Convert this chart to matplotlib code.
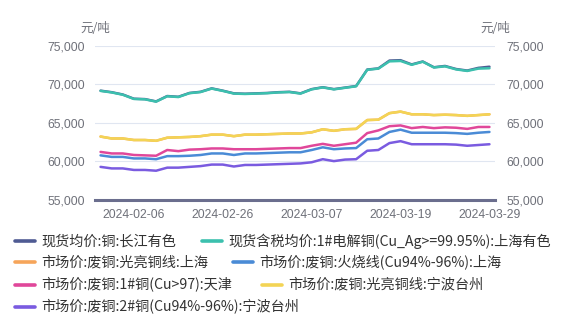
import matplotlib
matplotlib.use("Agg")
import matplotlib.pyplot as plt
from matplotlib.lines import Line2D

# ---------------- data ----------------
dates = ["2024-02-01", "2024-02-02", "2024-02-05", "2024-02-06", "2024-02-07", "2024-02-08",
         "2024-02-19", "2024-02-20", "2024-02-21", "2024-02-22", "2024-02-23", "2024-02-26",
         "2024-02-27", "2024-02-28", "2024-02-29", "2024-03-01", "2024-03-04", "2024-03-05",
         "2024-03-06", "2024-03-07", "2024-03-08", "2024-03-11", "2024-03-12", "2024-03-13",
         "2024-03-14", "2024-03-15", "2024-03-18", "2024-03-19", "2024-03-20", "2024-03-21",
         "2024-03-22", "2024-03-25", "2024-03-26", "2024-03-27", "2024-03-28", "2024-03-29"]
tick_dates = ["2024-02-06", "2024-02-26", "2024-03-07", "2024-03-19", "2024-03-29"]

changjiang = [69180, 68980, 68680, 68130, 68080, 67780, 68480, 68380, 68880, 69030, 69480, 69180,
              68830, 68780, 68830, 68880, 68980, 69030, 68830, 69380, 69630, 69380, 69580, 69780,
              71930, 72080, 73100, 73150, 72600, 72980, 72230, 72400, 72000, 71800, 72150, 72300]
shanghai_1 = [69150, 68950, 68650, 68100, 68050, 67750, 68450, 68350, 68850, 69000, 69450, 69150,
              68800, 68750, 68800, 68850, 68950, 69000, 68800, 69350, 69600, 69350, 69550, 69750,
              71900, 72050, 73000, 73050, 72550, 72950, 72200, 72350, 71950, 71750, 72050, 72100]
bright_sh = [63200, 62950, 62950, 62750, 62750, 62650, 63050, 63100, 63150, 63250, 63450, 63450,
             63250, 63450, 63450, 63500, 63550, 63600, 63600, 63750, 64150, 63950, 64150, 64200,
             65350, 65400, 66250, 66450, 66100, 66100, 66000, 66050, 66000, 65900, 66000, 66100]
burnt_sh = [60750, 60550, 60550, 60350, 60350, 60250, 60650, 60650, 60700, 60800, 61000, 61000,
            60800, 61000, 61000, 61050, 61100, 61150, 61150, 61450, 61800, 61550, 61650, 61700,
            62850, 62950, 63800, 64100, 63700, 63700, 63700, 63700, 63650, 63550, 63700, 63800]
no1_tj = [61200, 61000, 61000, 60800, 60750, 60700, 61450, 61300, 61500, 61550, 61650, 61650,
          61550, 61550, 61550, 61600, 61650, 61700, 61700, 62000, 62250, 62000, 62200, 62400,
          63650, 64000, 64550, 64650, 64300, 64450, 64300, 64400, 64350, 64200, 64450, 64450]
bright_nb = [63200, 62950, 62950, 62750, 62750, 62650, 63050, 63100, 63150, 63250, 63450, 63450,
             63250, 63450, 63450, 63500, 63550, 63600, 63600, 63750, 64150, 63950, 64150, 64200,
             65350, 65400, 66250, 66450, 66100, 66100, 66000, 66050, 66000, 65900, 66000, 66100]
no2_nb = [59250, 59050, 59050, 58850, 58850, 58750, 59150, 59150, 59250, 59350, 59550, 59550,
          59300, 59500, 59500, 59550, 59600, 59650, 59700, 59850, 60250, 60000, 60200, 60250,
          61350, 61450, 62350, 62600, 62200, 62200, 62200, 62200, 62150, 62000, 62100, 62200]

series_names = ["现货均价:铜:长江有色",
                "现货含税均价:1#电解铜(Cu_Ag>=99.95%):上海有色",
                "市场价:废铜:光亮铜线:上海",
                "市场价:废铜:火烧线(Cu94%-96%):上海",
                "市场价:废铜:1#铜(Cu>97):天津",
                "市场价:废铜:光亮铜线:宁波台州",
                "市场价:废铜:2#铜(Cu94%-96%):宁波台州"]
series_values = [changjiang, shanghai_1, bright_sh, burnt_sh, no1_tj, bright_nb, no2_nb]
colors = ["#4F5B93", "#3CC0AE", "#F6A55A", "#4A8BD6", "#E0479A", "#F3D455", "#7A5BE0"]

y_ticks = [55000, 60000, 65000, 70000, 75000]
y_labels = ["55,000", "60,000", "65,000", "70,000", "75,000"]
unit = "元/吨"

# ---------------- figure ----------------
W, H = 564, 328
fig = plt.figure(figsize=(W / 100, H / 100), dpi=100)
ax = fig.add_axes([95 / W, 1 - 199.5 / H, 400 / W, 153.5 / H])

x = list(range(len(dates)))
for vals, c in zip(series_values, colors):
    ax.plot(x, vals, color=c, lw=1.8, solid_joinstyle="round", solid_capstyle="round")

ax.set_xlim(-0.5, len(dates) - 0.5)
ax.set_ylim(55000, 75000)
ax.set_yticks(y_ticks)
ax.set_yticklabels(y_labels)
ax.set_xticks([dates.index(d) for d in tick_dates])
ax.set_xticklabels(tick_dates)

tick_family = ["Liberation Sans", "DejaVu Sans"]
tick_size = 8.7
for lab in ax.get_xticklabels() + ax.get_yticklabels():
    lab.set_fontfamily(tick_family)
    lab.set_fontsize(tick_size)
    lab.set_color("#6E7079")
ax.tick_params(axis="both", length=0)
ax.tick_params(axis="y", pad=7)
ax.tick_params(axis="x", pad=7)

ax.grid(axis="y", color="#E0E6F1", lw=0.8)
ax.set_axisbelow(True)
for s in ["left", "right", "top"]:
    ax.spines[s].set_visible(False)
ax.spines["bottom"].set_color("#6B6E8E")
ax.spines["bottom"].set_linewidth(2.2)

ax2 = ax.twinx()
ax2.set_ylim(55000, 75000)
ax2.set_yticks(y_ticks)
ax2.set_yticklabels(y_labels)
for lab in ax2.get_yticklabels():
    lab.set_fontfamily(tick_family)
    lab.set_fontsize(tick_size)
    lab.set_color("#6E7079")
ax2.tick_params(axis="y", length=0, pad=8)
for s in ["left", "right", "top", "bottom"]:
    ax2.spines[s].set_visible(False)

cjk = ["Noto Sans CJK SC", "DejaVu Sans"]
fig.text(80 / W, 1 - 29 / H, unit, ha="left", va="center", fontsize=9, color="#6E7079", family=cjk)
fig.text(480 / W, 1 - 29 / H, unit, ha="left", va="center", fontsize=9, color="#6E7079", family=cjk)

# ---------------- legend ----------------
leg_pos = [(15, 241.3), (201.7, 241.3), (15, 262.3), (233, 262.3), (15, 284.7), (261.7, 284.7), (15, 307)]
for (lx, ly), name, c in zip(leg_pos, series_names, colors):
    fig.add_artist(Line2D([lx / W, (lx + 20) / W], [1 - ly / H, 1 - ly / H],
                          transform=fig.transFigure, color=c, lw=2.6, solid_capstyle="round"))
    fig.text((lx + 26.5) / W, 1 - ly / H, name, ha="left", va="center", fontsize=10.2,
             color="#333333", family=cjk)

fig.savefig("out.png", dpi=100)
